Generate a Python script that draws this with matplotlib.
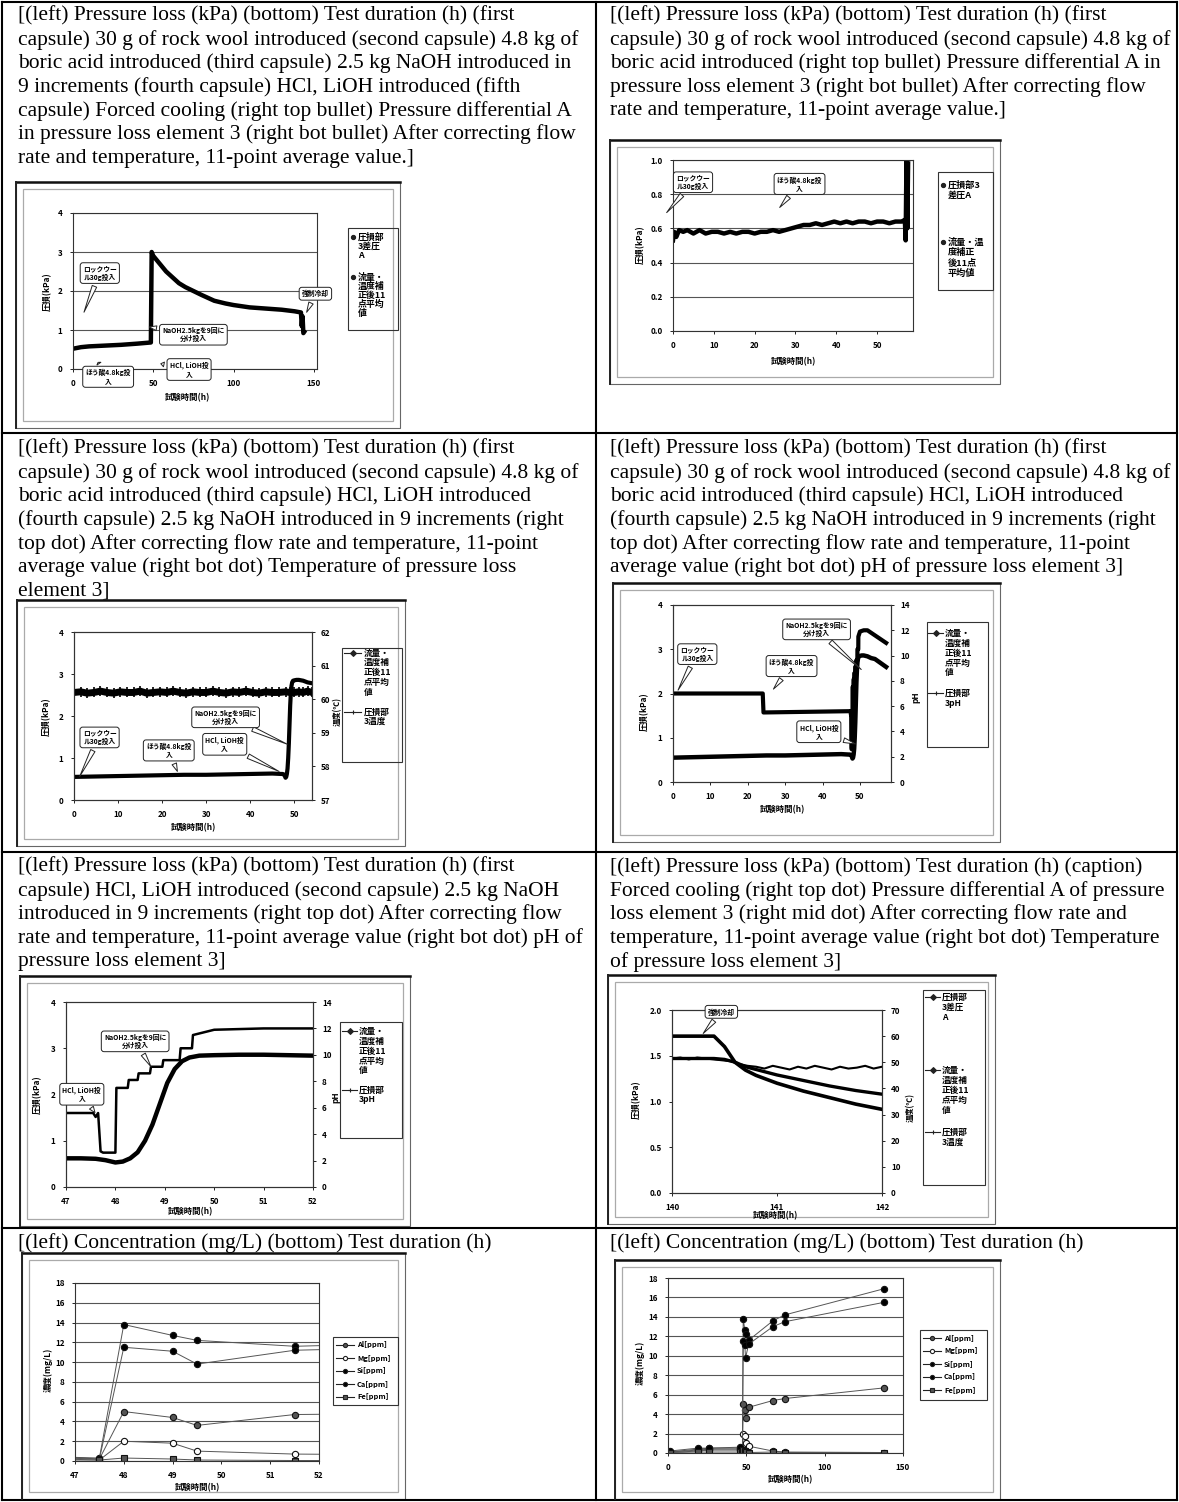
import matplotlib
matplotlib.use("Agg")
import matplotlib.pyplot as plt
from matplotlib.patches import Rectangle
from matplotlib.lines import Line2D

plt.rcParams['font.family'] = ['Noto Sans CJK JP', 'DejaVu Sans']
plt.rcParams['axes.linewidth'] = 0.8

# ---------------- data ----------------
# chart 1: pressure loss over whole test (h, kPa)
t1 = [0, 5, 10, 20, 30, 40, 48.5, 49, 50, 52, 55, 58, 62, 66, 70, 75, 80, 88, 95,
      100, 110, 120, 130, 138, 142, 142.5, 143, 143.5, 144]
p1 = [0.52, 0.56, 0.58, 0.6, 0.62, 0.65, 0.68, 3.0, 2.9, 2.8, 2.65, 2.5, 2.35, 2.2,
      2.1, 2.0, 1.9, 1.75, 1.68, 1.64, 1.58, 1.55, 1.52, 1.48, 1.45, 1.1, 1.35, 0.92, 0.95]

# chart 2: pressure loss, first 58 h
t2 = [0, 0.3, 0.8, 1.5, 2.5, 3.5, 5, 6.5, 8, 9.5, 11, 12.5, 14, 15.5, 17, 18.5, 20,
      21.5, 23, 24.5, 26, 27.5, 29, 30.5, 32, 33.5, 35, 36.5, 38, 39.5, 41, 42.5, 44,
      45.5, 47, 48.5, 50, 51.5, 53, 54.5, 56, 56.8, 57.0, 57.2, 57.4, 57.6]
p2 = [0.53, 0.58, 0.55, 0.59, 0.58, 0.59, 0.57, 0.59, 0.57, 0.58, 0.58, 0.57, 0.58,
      0.57, 0.58, 0.58, 0.57, 0.58, 0.58, 0.59, 0.58, 0.59, 0.6, 0.61, 0.62, 0.62, 0.63,
      0.62, 0.63, 0.64, 0.63, 0.64, 0.63, 0.64, 0.64, 0.63, 0.64, 0.64, 0.63, 0.64,
      0.64, 0.65, 0.53, 1.0, 0.6, 0.98]

# 11-point average after flow/temperature correction (charts 3, 4, 5)
t_avg = [0, 5, 10, 15, 20, 25, 30, 35, 40, 45, 47.0, 47.3, 47.6, 47.8, 48.0, 48.15,
         48.3, 48.45, 48.6, 48.75, 48.9, 49.05, 49.2, 49.35, 49.5, 49.7, 50.0, 50.5,
         51.0, 51.5, 52.0, 53.0, 54.0, 55.0, 56.0, 57.0]
p_avg = [0.55, 0.56, 0.57, 0.58, 0.59, 0.6, 0.6, 0.61, 0.62, 0.63, 0.62, 0.62, 0.61,
         0.58, 0.53, 0.55, 0.62, 0.75, 1.0, 1.35, 1.8, 2.25, 2.55, 2.72, 2.8, 2.84,
         2.85, 2.86, 2.86, 2.85, 2.84, 2.8, 2.78, 2.72, 2.66, 2.6]

# temperature of pressure loss element 3 (chart 3, deg C)
t_temp = [0, 1.5, 3, 4.5, 6, 7.5, 9, 10.5, 12, 13.5, 15, 16.5, 18, 19.5, 21, 22.5, 24,
          25.5, 27, 28.5, 30, 31.5, 33, 34.5, 36, 37.5, 39, 40.5, 42, 43.5, 45, 46.5,
          48, 49, 50, 51, 52, 53, 54]
temp3 = [60.2, 60.22, 60.18, 60.2, 60.24, 60.2, 60.18, 60.22, 60.2, 60.2, 60.24, 60.18,
         60.2, 60.22, 60.2, 60.24, 60.2, 60.18, 60.22, 60.2, 60.2, 60.24, 60.2, 60.18,
         60.22, 60.2, 60.24, 60.2, 60.18, 60.22, 60.2, 60.2, 60.22, 60.2, 60.2, 60.22,
         60.2, 60.24, 60.2]

# pH of pressure loss element 3 (charts 4, 5)
t_ph = [0, 24.0, 24.2, 47.0, 47.55, 47.6, 47.65, 47.7, 47.75, 48.0, 48.02, 48.25,
        48.27, 48.45, 48.47, 48.7, 48.72, 48.95, 48.97, 49.3, 49.32, 49.55, 49.57,
        50.0, 51.0, 52.0, 53.0, 54.0, 55.0, 56.0, 57.0]
ph = [7.0, 7.0, 5.5, 5.6, 5.6, 5.3, 5.6, 2.7, 2.6, 2.6, 7.5, 7.5, 8.1, 8.1, 8.6, 8.6,
      9.1, 9.1, 9.6, 9.6, 10.5, 10.5, 11.5, 11.9, 12.0, 12.0, 11.8, 11.6, 11.4, 11.2, 11.0]

# chart 6: forced cooling
t6a = [140.0, 140.08, 140.16, 140.24, 140.32, 140.4, 140.48, 140.56, 140.64, 140.72,
       140.8, 140.88, 140.96, 141.04, 141.12, 141.2, 141.28, 141.36, 141.44, 141.52,
       141.6, 141.68, 141.76, 141.84, 141.92, 142.0]
pA6 = [1.47, 1.48, 1.46, 1.48, 1.47, 1.46, 1.45, 1.44, 1.41, 1.39, 1.38, 1.36, 1.39,
       1.37, 1.35, 1.38, 1.36, 1.39, 1.37, 1.35, 1.38, 1.36, 1.37, 1.39, 1.36, 1.38]
t6m = [140.0, 140.4, 140.5, 140.6, 140.7, 140.8, 141.0, 141.25, 141.5, 141.75, 142.0]
pM6 = [1.47, 1.47, 1.46, 1.43, 1.38, 1.35, 1.29, 1.23, 1.17, 1.12, 1.08]
temp6 = [60.0, 60.0, 56.0, 50.0, 47.0, 45.0, 42.0, 39.0, 36.5, 34.0, 32.0]

# charts 7, 8: concentrations (mg/L)
t_conc = [0, 1, 19, 26, 46, 47.5, 48, 49, 49.5, 51.5, 67, 74.5, 138]
al = [0.1, 0.1, 0.3, 0.4, 0.4, 0.2, 5.0, 4.4, 3.6, 4.7, 5.4, 5.6, 6.7]
mg = [0.05, 0.05, 0.2, 0.3, 0.3, 0.1, 2.0, 1.8, 1.0, 0.7, 0.2, 0.1, 0.05]
si = [0.1, 0.1, 0.4, 0.5, 0.5, 0.3, 13.8, 12.7, 12.2, 11.6, 13.6, 14.2, 16.9]
ca = [0.2, 0.2, 0.5, 0.5, 0.6, 0.2, 11.5, 11.1, 9.8, 11.2, 13.0, 13.5, 15.5]
fe = [0.05, 0.05, 0.1, 0.1, 0.1, 0.1, 0.3, 0.2, 0.1, 0.05, 0.1, 0.05, 0.05]
conc_names = ['Al[ppm]', 'Mg[ppm]', 'Si[ppm]', 'Ca[ppm]', 'Fe[ppm]']

# captions
cap_r1_left = [
    "[(left) Pressure loss (kPa) (bottom) Test duration (h) (first",
    "capsule) 30 g of rock wool introduced (second capsule) 4.8 kg of",
    "boric acid introduced (third capsule) 2.5 kg NaOH introduced in",
    "9 increments (fourth capsule) HCl, LiOH introduced (fifth",
    "capsule) Forced cooling (right top bullet) Pressure differential A",
    "in pressure loss element 3 (right bot bullet) After correcting flow",
    "rate and temperature, 11-point average value.]"]
cap_r1_right = [
    "[(left) Pressure loss (kPa) (bottom) Test duration (h) (first",
    "capsule) 30 g of rock wool introduced (second capsule) 4.8 kg of",
    "boric acid introduced (right top bullet) Pressure differential A in",
    "pressure loss element 3 (right bot bullet) After correcting flow",
    "rate and temperature, 11-point average value.]"]
cap_r2_common = [
    "[(left) Pressure loss (kPa) (bottom) Test duration (h) (first",
    "capsule) 30 g of rock wool introduced (second capsule) 4.8 kg of",
    "boric acid introduced (third capsule) HCl, LiOH introduced",
    "(fourth capsule) 2.5 kg NaOH introduced in 9 increments (right",
    "top dot) After correcting flow rate and temperature, 11-point"]
cap_r2_left = cap_r2_common + ["average value (right bot dot) Temperature of pressure loss",
                               "element 3]"]
cap_r2_right = cap_r2_common + ["average value (right bot dot) pH of pressure loss element 3]"]
cap_r3_left = [
    "[(left) Pressure loss (kPa) (bottom) Test duration (h) (first",
    "capsule) HCl, LiOH introduced (second capsule) 2.5 kg NaOH",
    "introduced in 9 increments (right top dot) After correcting flow",
    "rate and temperature, 11-point average value (right bot dot) pH of",
    "pressure loss element 3]"]
cap_r3_right = [
    "[(left) Pressure loss (kPa) (bottom) Test duration (h) (caption)",
    "Forced cooling (right top dot) Pressure differential A of pressure",
    "loss element 3 (right mid dot) After correcting flow rate and",
    "temperature, 11-point average value (right bot dot) Temperature",
    "of pressure loss element 3]"]
cap_r4 = ["[(left) Concentration (mg/L) (bottom) Test duration (h)"]

YL = '圧損(kPa)'
XL = '試験時間(h)'
ROCK = 'ロックウー\nル30g投入'
BORIC = 'ほう酸4.8kg投\n入'
NAOH = 'NaOH2.5kgを9回に\n分け投入'
HCL = 'HCl, LiOH投\n入'
COOL = '強制冷却'

# ---------------- figure ----------------
W, H = 1179, 1502
fig = plt.figure(figsize=(W / 100, H / 100), dpi=100)
bg = fig.add_axes([0, 0, 1, 1])
bg.set_xlim(0, W)
bg.set_ylim(H, 0)
bg.axis('off')

# table grid
for x in (2, 596, 1177):
    bg.plot([x, x], [2, 1500], color='black', lw=1.5)
for y in (2, 433, 852, 1228, 1500):
    bg.plot([2, 1177], [y, y], color='black', lw=1.5)


def caption(x, y, lines):
    for i, s in enumerate(lines):
        bg.text(x, y + i * 23.7, s, family='Liberation Serif', fontsize=15.5,
                va='center', ha='left')


caption(18, 16, cap_r1_left)
caption(610, 16, cap_r1_right)
caption(18, 449, cap_r2_left)
caption(610, 449, cap_r2_right)
caption(18, 867, cap_r3_left)
caption(610, 867, cap_r3_right)
caption(18, 1243, cap_r4)
caption(610, 1243, cap_r4)


def frame(x0, y0, x1, y1):
    bg.add_patch(Rectangle((x0, y0), x1 - x0, y1 - y0, fill=False, ec='#666', lw=0.8))
    bg.plot([x0, x1], [y0, y0], color='#111', lw=1.8)
    bg.plot([x0, x0], [y0, y1], color='#222', lw=1.4)
    bg.add_patch(Rectangle((x0 + 7, y0 + 7), x1 - x0 - 14, y1 - y0 - 14, fill=False,
                           ec='#aaa', lw=0.9))


def make_ax(p, xlim, ylim, xticks, yticks, yfmt='{:g}', grid=False):
    x0, y0, x1, y1 = p
    ax = fig.add_axes([x0 / W, 1 - y1 / H, (x1 - x0) / W, (y1 - y0) / H])
    ax.set_xlim(*xlim)
    ax.set_ylim(*ylim)
    ax.set_xticks(xticks)
    ax.set_yticks(yticks)
    ax.set_yticklabels([yfmt.format(v) for v in yticks])
    ax.tick_params(labelsize=5.8, length=2.5, width=0.6, pad=5)
    for lab in ax.get_xticklabels() + ax.get_yticklabels():
        lab.set_fontweight('bold')
    for s in ax.spines.values():
        s.set_color('#333')
    if grid:
        ax.grid(axis='y', color='#555', lw=0.8)
        ax.set_axisbelow(True)
    return ax


def right_axis(ax, ylim, yticks):
    a2 = ax.twinx()
    a2.set_ylim(*ylim)
    a2.set_yticks(yticks)
    a2.tick_params(labelsize=5.8, length=2.5, width=0.6, pad=4)
    for lab in a2.get_yticklabels():
        lab.set_fontweight('bold')
    for s in a2.spines.values():
        s.set_color('#333')
    return a2


def label(x, y, s, rot=0, fs=6.0):
    bg.text(x, y, s, rotation=rot, ha='center', va='center', fontsize=fs,
            fontweight='bold')


def callout(ax, cax, text, box, tip):
    ax.annotate(text, xy=tip, xycoords=cax.transData, xytext=box,
                textcoords=cax.transData, fontsize=4.9, ha='center', va='center',
                linespacing=1.2, annotation_clip=False, zorder=10, fontweight='bold',
                bbox=dict(boxstyle='round,pad=0.4', fc='white', ec='#222', lw=0.7),
                arrowprops=dict(arrowstyle='wedge,tail_width=0.7,shrink_factor=0.5',
                                fc='white', ec='#222', lw=0.7))


def legend(box, entries, fs=6.0, step=10):
    x0, y0, x1, y1 = box
    bg.add_patch(Rectangle((x0, y0), x1 - x0, y1 - y0, fill=False, ec='#333', lw=0.8))
    for y, lines, mk, mfc, lx0, lx1, tx in entries:
        if lx1 > lx0:
            bg.add_line(Line2D([lx0, lx1], [y, y], color='#222', lw=0.8))
        bg.add_line(Line2D([(lx0 + lx1) / 2], [y], marker=mk, ms=3.0, mfc=mfc,
                           mec='#222', mew=0.8, color='#222'))
        for i, s in enumerate(lines):
            bg.text(tx, y + i * step, s, fontsize=fs, fontweight='bold',
                    ha='left', va='center')


# ---- chart 1 ----
frame(16, 182, 400, 428)
ax1 = make_ax((73, 213, 317, 369), (0, 152), (0, 4), [0, 50, 100, 150], [0, 1, 2, 3, 4],
              grid=True)
ax1.plot(t1, p1, color='black', lw=3.2)
callout(ax1, ax1, ROCK, (16.7, 2.46), (6.2, 1.39))
callout(ax1, ax1, BORIC, (21.9, -0.2), (15.6, 0.17))
callout(ax1, ax1, NAOH, (75, 0.88), (45.8, 1.09))
callout(ax1, ax1, HCL, (72.3, -0.02), (53, 0.15))
callout(ax1, ax1, COOL, (151, 1.93), (144.8, 1.39))
label(48, 292, YL, 90)
label(187, 398, XL)
legend((348, 228, 398, 330),
       [(237, ['圧損部', '3差圧', 'A'], 'o', '#222', 353, 353, 358),
        (277, ['流量・', '温度補', '正後11', '点平均', '値'], 'o', '#222', 353, 353, 358)],
       fs=6.4, step=9)

# ---- chart 2 ----
frame(610, 140, 1000, 384)
ax2 = make_ax((673, 160, 913, 331), (0, 58.8), (0, 1), [0, 10, 20, 30, 40, 50],
              [0, 0.2, 0.4, 0.6, 0.8, 1.0], yfmt='{:.1f}', grid=True)
ax2.plot(t2, p2, color='black', lw=3.2)
callout(ax2, ax2, ROCK, (4.9, 0.87), (-2.0, 0.68))
callout(ax2, ax2, BORIC, (31.0, 0.86), (25.7, 0.71))
label(641, 245, YL, 90)
label(793, 362, XL)
legend((938, 172, 993, 290),
       [(185, ['圧損部3', '差圧A'], 'o', '#222', 943, 943, 948),
        (242, ['流量・温', '度補正', '後11点', '平均値'], 'o', '#222', 943, 943, 948)],
       fs=6.6, step=10.5)

# ---- chart 3 ----
frame(17, 600, 405, 846)
ax3 = make_ax((74, 632, 312, 800), (0, 54), (0, 4), [0, 10, 20, 30, 40, 50], [0, 1, 2, 3, 4])
ax3r = right_axis(ax3, (57, 62), [57, 58, 59, 60, 61, 62])
ax3r.plot(t_temp, temp3, color='black', lw=5, marker='+', ms=7, mew=1.2)
ax3r.plot(t_avg[:-3], p_avg[:-3], color='black', lw=3, transform=ax3.transData)
callout(ax3r, ax3, ROCK, (5.8, 1.49), (1.0, 0.5))
callout(ax3r, ax3, BORIC, (21.5, 1.18), (23.7, 0.62))
callout(ax3r, ax3, HCL, (34.2, 1.32), (47.1, 0.65))
callout(ax3r, ax3, NAOH, (34.4, 1.97), (49.0, 1.3))
label(47, 717, YL, 90)
label(337, 712, '温度(℃)', 90, fs=5.6)
label(193, 828, XL)
legend((342, 648, 402, 762),
       [(653, ['流量・', '温度補', '正後11', '点平均', '値'], 'D', '#222', 344, 361, 364),
        (712, ['圧損部', '3温度'], '+', '#222', 344, 361, 364)],
       fs=6.2, step=9.8)

# ---- chart 4 ----
frame(613, 583, 1000, 842)
ax4 = make_ax((673, 605, 891, 782), (0, 58.3), (0, 4), [0, 10, 20, 30, 40, 50], [0, 1, 2, 3, 4])
ax4r = right_axis(ax4, (0, 14), [0, 2, 4, 6, 8, 10, 12, 14])
ax4r.plot(t_avg, p_avg, color='black', lw=3.2, transform=ax4.transData)
ax4r.plot(t_ph, ph, color='black', lw=3)
callout(ax4r, ax4, ROCK, (6.5, 2.89), (1.0, 2.02))
callout(ax4r, ax4, BORIC, (31.7, 2.62), (26.4, 2.05))
callout(ax4r, ax4, NAOH, (38.4, 3.45), (50.9, 2.5))
callout(ax4r, ax4, HCL, (39.0, 1.13), (49.5, 0.84))
label(645, 712, YL, 90)
label(916, 697, 'pH', 90)
label(782, 810, XL)
legend((927, 622, 988, 747),
       [(633, ['流量・', '温度補', '正後11', '点平均', '値'], 'D', '#222', 928, 943, 945),
        (693, ['圧損部', '3pH'], '+', '#222', 928, 943, 945)],
       fs=6.2, step=10)

# ---- chart 5 ----
frame(20, 976, 410, 1226)
ax5 = make_ax((66, 1002, 313, 1187), (47, 52), (0, 4), [47, 48, 49, 50, 51, 52], [0, 1, 2, 3, 4])
ax5r = right_axis(ax5, (0, 14), [0, 2, 4, 6, 8, 10, 12, 14])
ax5r.plot(t_avg, p_avg, color='black', lw=3.2, transform=ax5.transData)
ax5r.plot(t_ph, ph, color='black', lw=1.8)
callout(ax5r, ax5, NAOH, (48.4, 3.15), (48.75, 2.55))
callout(ax5r, ax5, HCL, (47.32, 2.0), (47.62, 1.56))
label(38, 1095, YL, 90)
label(336, 1097, 'pH', 90)
label(190, 1212, XL)
legend((340, 1022, 402, 1138),
       [(1031, ['流量・', '温度補', '正後11', '点平均', '値'], 'D', '#222', 342, 357, 359),
        (1090, ['圧損部', '3pH'], '+', '#222', 342, 357, 359)],
       fs=6.2, step=10)

# ---- chart 6 ----
frame(608, 975, 995, 1224)
ax6 = make_ax((672, 1010, 882, 1193), (140, 142), (0, 2), [140, 141, 142],
              [0, 0.5, 1.0, 1.5, 2.0], yfmt='{:.1f}')
ax6r = right_axis(ax6, (0, 70), [0, 10, 20, 30, 40, 50, 60, 70])
ax6r.plot(t6a, pA6, color='black', lw=1.5, transform=ax6.transData)
ax6r.plot(t6m, pM6, color='black', lw=2.4, transform=ax6.transData)
ax6r.plot(t6m, temp6, color='black', lw=2.6)
callout(ax6r, ax6, COOL, (140.47, 1.98), (140.28, 1.72))
label(637, 1100, YL, 90)
label(910, 1107, '温度(℃)', 90, fs=5.6)
label(775, 1216, XL)
legend((923, 990, 985, 1185),
       [(997, ['圧損部', '3差圧', 'A'], 'D', '#222', 925, 940, 942),
        (1070, ['流量・', '温度補', '正後11', '点平均', '値'], 'D', '#222', 925, 940, 942),
        (1132, ['圧損部', '3温度'], '+', '#222', 925, 940, 942)],
       fs=6.2, step=10)

# ---- charts 7 and 8 ----
conc_series = [al, mg, si, ca, fe]
conc_marks = [('o', '#555'), ('o', 'white'), ('o', 'black'), ('o', 'black'), ('s', '#555')]


def conc_chart(fr, p, xlim, xticks, yl_xy, xl_xy, lbox, ly, lx0, lx1, tx):
    frame(*fr)
    ax = make_ax(p, xlim, (0, 18), xticks, list(range(0, 19, 2)), grid=True)
    for vals, (mk, fc) in zip(conc_series, conc_marks):
        ax.plot(t_conc, vals, color='#555', lw=0.7, marker=mk, ms=4.5, mfc=fc,
                mec='#111', mew=0.8)
    label(yl_xy[0], yl_xy[1], '濃度(mg/L)', 90)
    label(xl_xy[0], xl_xy[1], XL)
    legend(lbox, [(y, [n], mk, fc, lx0, lx1, tx)
                  for y, n, (mk, fc) in zip(ly, conc_names, conc_marks)], fs=5.4)


conc_chart((22, 1253, 405, 1499), (75, 1283, 319, 1461), (47, 52), [47, 48, 49, 50, 51, 52],
           (48, 1370), (197, 1488), (333, 1337, 398, 1405),
           [1345, 1358, 1371, 1384, 1397], 336, 354, 357)
conc_chart((615, 1260, 1000, 1499), (668, 1278, 903, 1453), (0, 150), [0, 50, 100, 150],
           (640, 1363), (790, 1480), (920, 1330, 987, 1400),
           [1338, 1351, 1364, 1377, 1390], 923, 941, 944)

fig.savefig('out.png', dpi=100)
